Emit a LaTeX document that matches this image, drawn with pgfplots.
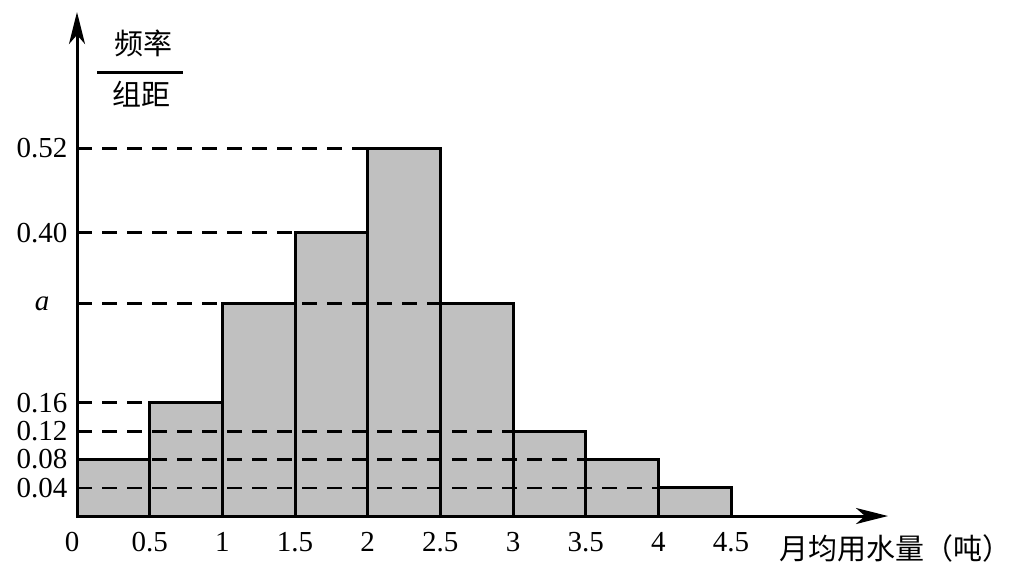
\documentclass[border=0pt]{standalone}
\usepackage{fontspec}
\setmainfont{Liberation Serif}
\newfontfamily\cjk{Noto Sans CJK SC}
\usepackage{pgfplots}
\pgfplotsset{compat=1.18}
\usetikzlibrary{arrows.meta}
\definecolor{bargray}{RGB}{192,192,192}

\begin{document}
\begin{tikzpicture}
\path[use as bounding box] (-38.5pt,-27pt) rectangle (477pt,258pt);
\begin{axis}[
  scale only axis, width=405.5pt, height=252pt,
  xmin=0, xmax=5.58, ymin=0, ymax=0.7122,
  axis x line*=bottom, axis y line*=left,
  axis line style={draw=none},
  xtick={0,0.5,1,1.5,2,2.5,3,3.5,4,4.5},
  xticklabels={\hspace*{-5pt}0,0.5,1,1.5,2,2.5,3,3.5,4,4.5},
  ytick={0.04,0.08,0.12,0.16,0.30,0.40,0.52},
  yticklabels={0.04,0.08,0.12,0.16,\textit{a},0.40,0.52},
  major tick length=0pt,
  tick style={draw=none},
  /pgf/number format/assume math mode=true,
  ticklabel style={font=\fontsize{14.5pt}{17pt}\selectfont},
  xticklabel style={anchor=north, inner sep=0pt, yshift=-8pt},
  yticklabel style={anchor=center, inner sep=0pt, xshift=-17.5pt},
  clip=false,
]
\addplot[ybar interval, fill=bargray, draw=black, line width=1.5pt]
  coordinates {(0,0.08) (0.5,0.16) (1,0.30) (1.5,0.40) (2,0.52) (2.5,0.30) (3,0.12) (3.5,0.08) (4,0.04) (4.5,0.04)};
\addplot[black, line width=1.5pt, dash pattern=on 7.5pt off 5pt] coordinates {(0,0.52) (2,0.52)};
\addplot[black, line width=1.5pt, dash pattern=on 7.5pt off 5pt] coordinates {(0,0.40) (1.5,0.40)};
\addplot[black, line width=1.5pt, dash pattern=on 7.5pt off 5pt] coordinates {(0,0.30) (2.5,0.30)};
\addplot[black, line width=1.5pt, dash pattern=on 7.5pt off 5pt] coordinates {(0,0.16) (0.5,0.16)};
\addplot[black, line width=1.5pt, dash pattern=on 7.5pt off 5pt] coordinates {(0,0.12) (3,0.12)};
\addplot[black, line width=1.5pt, dash pattern=on 7.5pt off 5pt] coordinates {(0,0.08) (3.5,0.08)};
\addplot[black, line width=1.2pt, dash pattern=on 7.5pt off 5pt] coordinates {(0,0.04) (4,0.04)};
\draw[line width=1.5pt, -{Stealth[length=16pt,width=8pt,inset=4.5pt]}] (rel axis cs:0,0) -- (rel axis cs:1,0);
\draw[line width=1.5pt, -{Stealth[length=16pt,width=8pt,inset=4.5pt]}] (rel axis cs:0,0) -- (rel axis cs:0,1);
\end{axis}
\node[inner sep=0pt, font=\cjk\fontsize{14.5pt}{17pt}\selectfont] at (33pt,236.5pt) {频率};
\draw[line width=1.5pt] (10pt,222pt) -- (53pt,222pt);
\node[inner sep=0pt, font=\cjk\fontsize{14.5pt}{17pt}\selectfont] at (32.25pt,210.75pt) {组距};
\node[inner sep=0pt, anchor=west, font=\cjk\fontsize{14.5pt}{17pt}\selectfont] at (351pt,-16pt) {月均用水量（吨）};
\end{tikzpicture}
\end{document}
